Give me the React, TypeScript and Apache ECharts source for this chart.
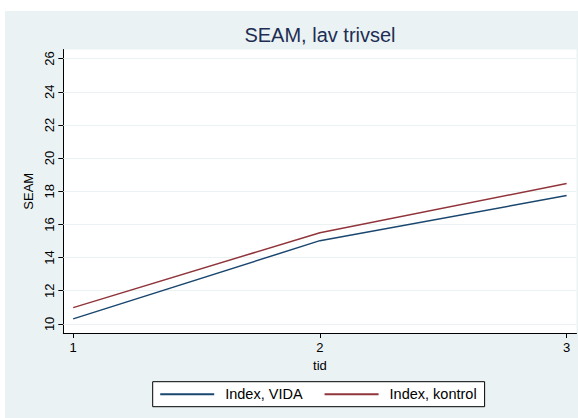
import React, { useEffect, useRef } from "react";
import * as echarts from "echarts";

const xTicks = [1, 2, 3];
const yTicks = [10, 12, 14, 16, 18, 20, 22, 24, 26];
const vida = [10.3, 15.02, 17.74];
const kontrol = [10.98, 15.5, 18.47];
const seriesNames = ["Index, VIDA", "Index, kontrol"];

const FONT = "Liberation Sans, Arial, sans-serif";

export default function App() {
  const ref = useRef<HTMLDivElement>(null);
  useEffect(() => {
    if (!ref.current) return;
    const chart = echarts.init(ref.current, undefined, { renderer: "svg" });
    chart.setOption({
      animation: false,
      backgroundColor: "#eaf2f3",
      title: {
        text: "SEAM, lav trivsel",
        left: 310,
        top: 8.5,
        textAlign: "center",
        textStyle: { fontFamily: FONT, fontSize: 20, fontWeight: "normal", color: "#1e2d53" },
      },
      grid: {
        left: 58.3,
        right: 1.5,
        top: 38.5,
        bottom: 85,
        show: true,
        backgroundColor: "#ffffff",
        borderWidth: 0,
      },
      legend: {
        left: 147.7,
        top: 370.7,
        data: seriesNames,
        icon: "rect",
        itemWidth: 54,
        itemHeight: 2,
        itemGap: 22,
        padding: [5, 8, 5, 7.5],
        borderColor: "#000",
        borderWidth: 1,
        borderRadius: 0,
        backgroundColor: "#ffffff",
        textStyle: { fontFamily: FONT, fontSize: 14.5, color: "#000", padding: [0, 0, 0, 6] },
      },
      xAxis: {
        type: "value",
        min: 0.96,
        max: 3.04,
        name: "tid",
        nameLocation: "middle",
        nameGap: 25,
        nameTextStyle: { fontFamily: FONT, fontSize: 13, color: "#000" },
        axisLine: { show: true, lineStyle: { color: "#000", width: 1 } },
        axisTick: { show: true, customValues: xTicks, length: 5, lineStyle: { color: "#000" } },
        axisLabel: {
          customValues: xTicks,
          fontFamily: FONT,
          fontSize: 13,
          color: "#000",
          margin: 8,
        },
        splitLine: { show: false },
      },
      yAxis: {
        type: "value",
        min: 9.45,
        max: 26.55,
        name: "SEAM",
        nameLocation: "middle",
        nameGap: 25,
        nameRotate: 90,
        nameTextStyle: { fontFamily: FONT, fontSize: 13, color: "#000" },
        axisLine: { show: true, lineStyle: { color: "#000", width: 1 } },
        axisTick: { show: true, customValues: yTicks, length: 5, lineStyle: { color: "#000" } },
        axisLabel: {
          customValues: yTicks,
          rotate: 90,
          fontFamily: FONT,
          fontSize: 13,
          color: "#000",
          margin: 7,
        },
        splitLine: { show: false },
      },
      series: [
        {
          name: seriesNames[0],
          type: "line",
          data: xTicks.map((x, i) => [x, vida[i]]),
          showSymbol: false,
          symbol: "none",
          lineStyle: { color: "#1a476f", width: 1.5 },
          itemStyle: { color: "#1a476f" },
          z: 3,
          markLine: {
            silent: true,
            symbol: "none",
            label: { show: false },
            lineStyle: { color: "#eaf2f3", width: 1, type: "solid" },
            data: yTicks.map((v) => ({ yAxis: v })),
            z: 1,
          },
        },
        {
          name: seriesNames[1],
          type: "line",
          data: xTicks.map((x, i) => [x, kontrol[i]]),
          showSymbol: false,
          symbol: "none",
          lineStyle: { color: "#90353b", width: 1.5 },
          itemStyle: { color: "#90353b" },
          z: 3,
        },
      ],
    });
    return () => chart.dispose();
  }, []);
  return (
    <div
      ref={ref}
      style={{ position: "absolute", left: 5, top: 11, width: 573, height: 407 }}
    />
  );
}
